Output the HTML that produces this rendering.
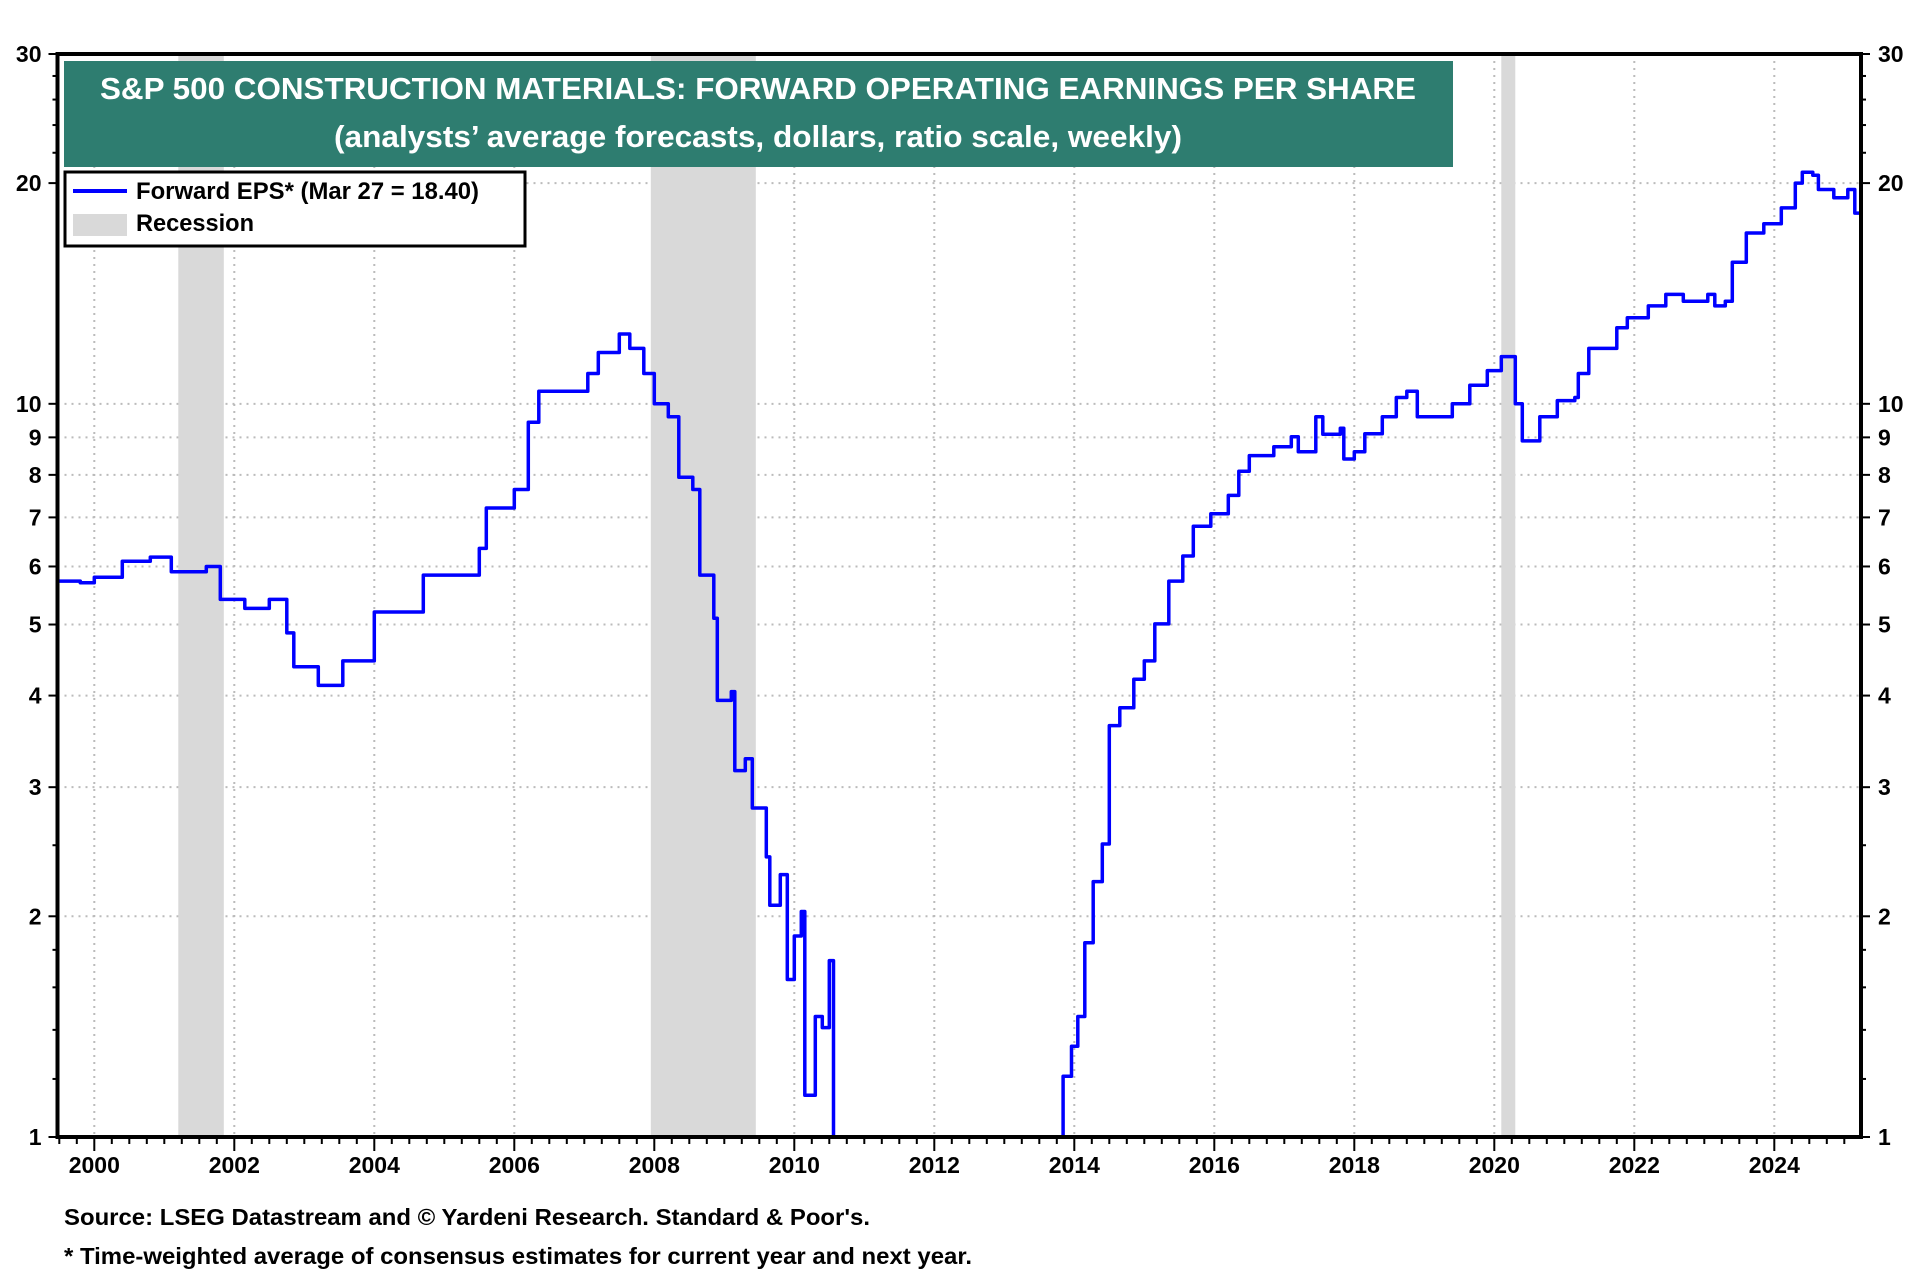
<!DOCTYPE html>
<html><head><meta charset="utf-8"><style>
html,body{margin:0;padding:0;background:#fff;width:1920px;height:1280px;overflow:hidden;}
svg{display:block;font-family:"Liberation Sans",Arial,sans-serif;}
</style></head><body>
<svg id="chart" width="1920" height="1280" viewBox="0 0 1920 1280" xmlns="http://www.w3.org/2000/svg">
<rect x="0" y="0" width="1920" height="1280" fill="#fff"/>
<g id="grid"></g><g id="rec"></g>
<clipPath id="clip"><rect x="57.5" y="54" width="1803.5" height="1083"/></clipPath>
<g id="series" clip-path="url(#clip)"></g>
<g id="axes"></g>
<rect x="64" y="61" width="1389" height="106" fill="#2e7d70"/>
<text x="758" y="99" text-anchor="middle" fill="#fff" font-weight="bold" font-size="31" textLength="1316" lengthAdjust="spacingAndGlyphs">S&amp;P 500 CONSTRUCTION MATERIALS: FORWARD OPERATING EARNINGS PER SHARE</text>
<text x="758" y="147" text-anchor="middle" fill="#fff" font-weight="bold" font-size="31" textLength="848" lengthAdjust="spacingAndGlyphs">(analysts’ average forecasts, dollars, ratio scale, weekly)</text>
<g>
<rect x="65" y="172" width="460" height="74" fill="#fff" stroke="#000" stroke-width="3"/>
<line x1="73" y1="191" x2="127" y2="191" stroke="#0000ff" stroke-width="4"/>
<text x="136" y="199" font-size="24" font-weight="bold" textLength="343" lengthAdjust="spacingAndGlyphs">Forward EPS* (Mar 27 = 18.40)</text>
<rect x="73" y="214" width="54" height="22" fill="#d9d9d9"/>
<text x="136" y="231" font-size="24" font-weight="bold" textLength="118" lengthAdjust="spacingAndGlyphs">Recession</text>
</g>
<text x="64" y="1225" font-size="23" font-weight="bold" textLength="806" lengthAdjust="spacingAndGlyphs">Source: LSEG Datastream and © Yardeni Research. Standard &amp; Poor's.</text>
<text x="64" y="1264" font-size="23" font-weight="bold" textLength="908" lengthAdjust="spacingAndGlyphs">* Time-weighted average of consensus estimates for current year and next year.</text>
</svg>
<script>
const years=[1999.47,1999.8,2000.0,2000.4,2000.8,2001.1,2001.6,2001.8,2002.15,2002.5,2002.75,2002.85,2003.2,2003.55,2004.0,2004.7,2005.5,2005.6,2006.0,2006.2,2006.35,2007.05,2007.2,2007.5,2007.65,2007.85,2008.0,2008.2,2008.35,2008.55,2008.65,2008.85,2008.9,2009.1,2009.15,2009.3,2009.4,2009.6,2009.65,2009.8,2009.9,2010.0,2010.1,2010.15,2010.3,2010.4,2010.5,2010.56,2010.6,2013.7,2013.73,2013.84,2013.96,2014.05,2014.15,2014.27,2014.4,2014.5,2014.65,2014.85,2015.0,2015.15,2015.35,2015.55,2015.7,2015.95,2016.2,2016.35,2016.5,2016.85,2017.1,2017.2,2017.45,2017.55,2017.8,2017.85,2018.0,2018.15,2018.4,2018.6,2018.75,2018.9,2019.1,2019.4,2019.65,2019.9,2020.1,2020.2,2020.3,2020.4,2020.5,2020.65,2020.9,2021.15,2021.2,2021.35,2021.75,2021.9,2022.2,2022.45,2022.7,2023.05,2023.15,2023.3,2023.4,2023.6,2023.85,2024.1,2024.3,2024.4,2024.55,2024.63,2024.85,2025.05,2025.15,2025.24];
const eps=[5.73,5.7,5.8,6.1,6.18,5.9,6.0,5.41,5.26,5.41,4.87,4.38,4.13,4.46,5.2,5.84,6.35,7.21,7.64,9.44,10.4,11.0,11.75,12.45,11.9,11.0,10.0,9.6,7.94,7.64,5.84,5.1,3.94,4.05,3.16,3.28,2.81,2.41,2.07,2.28,1.64,1.88,2.03,1.14,1.46,1.41,1.74,1.0,0.5,0.5,1.0,1.21,1.33,1.46,1.84,2.23,2.51,3.64,3.85,4.21,4.46,5.01,5.73,6.2,6.81,7.08,7.5,8.09,8.5,8.74,9.02,8.6,9.6,9.09,9.26,8.41,8.6,9.1,9.6,10.2,10.4,9.6,9.6,10.0,10.6,11.1,11.6,11.6,10.0,8.9,8.9,9.6,10.1,10.2,11.0,11.9,12.7,13.1,13.6,14.1,13.8,14.1,13.6,13.8,15.6,17.1,17.6,18.5,20.0,20.7,20.5,19.6,19.1,19.6,18.2,18.4];
const recStart=[2001.2,2007.95,2020.1];
const recEnd=[2001.85,2009.45,2020.3];
const yTicks=[1,2,3,4,5,6,7,8,9,10,20,30];
const yMinor=[1.2,1.4,1.6,1.8,2.5,22,24,26,28];
const xLabels=[2000,2002,2004,2006,2008,2010,2012,2014,2016,2018,2020,2022,2024];
const L=57.5,R=1861,T=54,B=1137;
const X=y=>94.3+(y-2000)*70;
const Y=v=>B-(B-T)*Math.log(v)/Math.log(30);
const NS="http://www.w3.org/2000/svg";
function mk(tag,attrs,parent,txt){const e=document.createElementNS(NS,tag);for(const k in attrs)e.setAttribute(k,attrs[k]);if(txt!==undefined)e.textContent=txt;document.getElementById(parent).appendChild(e);return e;}
yTicks.forEach(v=>{if(v>1&&v<30&&(v<=10||v==20)){const g=mk('line',{x1:L,x2:R,y1:Y(v),y2:Y(v),stroke:'#bbb','stroke-width':2,'stroke-dasharray':'2,5'},'grid');

}});
xLabels.forEach(yr=>{const g=mk('line',{x1:X(yr),x2:X(yr),y1:T,y2:B,stroke:'#bbb','stroke-width':2,'stroke-dasharray':'2,5'},'grid');

});
recStart.forEach((s,i)=>{const r=mk('rect',{x:X(s),y:T,width:X(recEnd[i])-X(s),height:B-T,fill:'#d9d9d9'},'rec');

});
let d='M'+X(years[0]).toFixed(1)+','+Y(eps[0]).toFixed(1);
for(let i=1;i<years.length;i++){d+=' H'+X(years[i]).toFixed(1)+' V'+Y(eps[i]).toFixed(1);}
const p=mk('path',{d:d,fill:'none',stroke:'#0000ff','stroke-width':3.5,'stroke-linejoin':'round'},'series');


const f=mk('rect',{x:L,y:T,width:R-L,height:B-T,fill:'none',stroke:'#000','stroke-width':4},'axes');


yTicks.forEach(v=>{const y=Y(v);
mk('line',{x1:L-9,x2:L,y1:y,y2:y,stroke:'#000','stroke-width':2},'axes');
mk('line',{x1:R,x2:R+9,y1:y,y2:y,stroke:'#000','stroke-width':2},'axes');
const a=mk('text',{x:L-16,y:y+8,'text-anchor':'end','font-size':23,'font-weight':'bold'},'axes',String(v));


const b=mk('text',{x:R+17,y:y+8,'font-size':23,'font-weight':'bold'},'axes',String(v));

});
yMinor.forEach(v=>{const y=Y(v);mk('line',{x1:L-5,x2:L,y1:y,y2:y,stroke:'#000','stroke-width':2},'axes');mk('line',{x1:R,x2:R+5,y1:y,y2:y,stroke:'#000','stroke-width':2},'axes');});
for(let q=1999.5;q<=2025.25;q+=0.25){const x=X(q);if(x<L||x>R)continue;const major=Math.abs(q-Math.round(q))<1e-6&&Math.round(q)%2==0;
mk('line',{x1:x,x2:x,y1:B,y2:B+(major?14:7),stroke:'#000','stroke-width':2},'axes');}
xLabels.forEach(yr=>{const t=mk('text',{x:X(yr),y:B+36,'text-anchor':'middle','font-size':23,'font-weight':'bold'},'axes',String(yr));

});
</script>
</body></html>
